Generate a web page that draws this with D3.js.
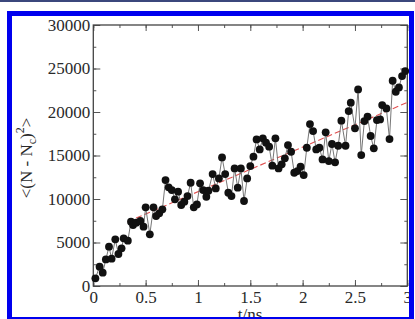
<!DOCTYPE html>
<html>
<head>
<meta charset="utf-8">
<script src="https://cdn.jsdelivr.net/npm/d3@7"></script>
<style>
  body { margin: 0; background: #fff; }
  svg { display: block; }
  text { font-family: "Liberation Serif", "Times New Roman", serif; fill: #2a2a2a; }
</style>
</head>
<body>
<div id="chart"></div>
<script>
var width = 415;
var height = 319;

// simulation time (ns)
const times = [
  0.02, 0.06, 0.09, 0.12, 0.15, 0.175, 0.21, 0.24, 0.27, 0.29,
  0.33, 0.36, 0.38, 0.41, 0.45, 0.48, 0.50, 0.54, 0.575, 0.60,
  0.63, 0.66, 0.69, 0.72, 0.75, 0.78, 0.81, 0.84, 0.87, 0.90,
  0.93, 0.96, 0.99, 1.02, 1.05, 1.08, 1.10, 1.14, 1.17, 1.20,
  1.23, 1.26, 1.29, 1.32, 1.35, 1.38, 1.41, 1.44, 1.47, 1.50,
  1.53, 1.56, 1.59, 1.62, 1.65, 1.68, 1.71, 1.74, 1.77, 1.80,
  1.83, 1.86, 1.89, 1.92, 1.95, 1.98, 2.01, 2.04, 2.07, 2.10,
  2.13, 2.16, 2.19, 2.22, 2.25, 2.28, 2.31, 2.34, 2.37, 2.41,
  2.44, 2.46, 2.50, 2.53, 2.56, 2.59, 2.62, 2.65, 2.68, 2.71,
  2.74, 2.76, 2.80, 2.83, 2.86, 2.89, 2.92, 2.95, 2.98
];
// <(N - Nc)^2>
const fluct = [
  880, 2220, 1530, 3060, 4520, 3140, 5360, 3680, 4330, 5480,
  5210, 7390, 7010, 7280, 7470, 6820, 9040, 5940, 9040, 8040,
  8350, 8810, 12180, 11340, 11030, 9960, 10840, 9310, 9690, 10340,
  11870, 9040, 9380, 11800, 11030, 10260, 10950, 12870, 11220, 12370,
  14780, 12870, 10720, 10340, 13520, 11300, 13520, 9770, 12370, 13790,
  14860, 16850, 15700, 16970, 16470, 16010, 13830, 16970, 13520, 13980,
  14670, 16200, 15430, 13020, 13210, 13710, 12750, 15890, 18610, 17810,
  15700, 15890, 14550, 17660, 14360, 16320, 14210, 16120, 19000, 16120,
  20110, 21070, 18120, 22600, 15050, 18960, 19460, 17240, 15820, 19070,
  19150, 20800, 20410, 16890, 23590, 22330, 22830, 24130, 24700
];
// linear fit end points
const fitT = [0.33, 3.0];
const fitV = [7400, 21100];

const xTicks = [0, 0.5, 1, 1.5, 2, 2.5, 3];
const yTicks = [0, 5000, 10000, 15000, 20000, 25000, 30000];

var svg = d3.select("#chart").append("svg")
  .attr("width", width)
  .attr("height", height);

// top strip
svg.append("rect").attr("x", 0).attr("y", 0).attr("width", width).attr("height", 2).attr("fill", "#3b477c");

var pLeft = 93.3, pRight = 407.3, pTop = 25, pBottom = 286;

var x = d3.scaleLinear().domain([0, 3]).range([pLeft, pRight]);
var y = d3.scaleLinear().domain([0, 30000]).range([pBottom, pTop]);

var minorX = d3.range(0, 3.001, 0.25);
var minorY = d3.range(0, 30001, 2500);

function styleAxis(g) {
  g.select(".domain").remove();
  g.selectAll(".tick line").attr("stroke", "#555").attr("stroke-width", 1);
}

// minor ticks, all four sides
svg.append("g").attr("transform", "translate(0," + pBottom + ")")
  .call(d3.axisBottom(x).tickValues(minorX).tickSize(-3).tickFormat("")).call(styleAxis);
svg.append("g").attr("transform", "translate(0," + pTop + ")")
  .call(d3.axisTop(x).tickValues(minorX).tickSize(-3).tickFormat("")).call(styleAxis);
svg.append("g").attr("transform", "translate(" + pLeft + ",0)")
  .call(d3.axisLeft(y).tickValues(minorY).tickSize(-3).tickFormat("")).call(styleAxis);
svg.append("g").attr("transform", "translate(" + pRight + ",0)")
  .call(d3.axisRight(y).tickValues(minorY).tickSize(-3).tickFormat("")).call(styleAxis);

// major ticks + labels
var xAxis = svg.append("g").attr("transform", "translate(0," + pBottom + ")")
  .call(d3.axisBottom(x).tickValues(xTicks).tickSize(-6).tickPadding(5).tickFormat(d3.format("")))
  .call(styleAxis);
xAxis.selectAll("text").attr("font-size", 17).attr("fill", "#2a2a2a")
  .attr("font-family", "Liberation Serif");

svg.append("g").attr("transform", "translate(0," + pTop + ")")
  .call(d3.axisTop(x).tickValues(xTicks).tickSize(-6).tickFormat("")).call(styleAxis);

var yAxis = svg.append("g").attr("transform", "translate(" + pLeft + ",0)")
  .call(d3.axisLeft(y).tickValues(yTicks).tickSize(-7).tickPadding(3).tickFormat(d3.format("d")))
  .call(styleAxis);
yAxis.selectAll("text").attr("font-size", 17).attr("fill", "#2a2a2a")
  .attr("font-family", "Liberation Serif");

svg.append("g").attr("transform", "translate(" + pRight + ",0)")
  .call(d3.axisRight(y).tickValues(yTicks).tickSize(-7).tickFormat("")).call(styleAxis);

// frame
svg.append("rect")
  .attr("x", pLeft).attr("y", pTop)
  .attr("width", pRight - pLeft).attr("height", pBottom - pTop)
  .attr("fill", "none").attr("stroke", "#444").attr("stroke-width", 1.3);

// fit line
svg.append("line")
  .attr("x1", x(fitT[0])).attr("y1", y(fitV[0]))
  .attr("x2", x(fitT[1])).attr("y2", y(fitV[1]))
  .attr("stroke", "#e05050").attr("stroke-width", 1.1)
  .attr("stroke-dasharray", "6,3");

var pts = times.map((t, i) => ({ t: t, v: fluct[i] }));

svg.append("path")
  .datum(pts)
  .attr("fill", "none")
  .attr("stroke", "#666")
  .attr("stroke-width", 0.9)
  .attr("d", d3.line().x(d => x(d.t)).y(d => y(d.v)));

svg.selectAll("circle.pt")
  .data(pts)
  .join("circle")
  .attr("class", "pt")
  .attr("cx", d => x(d.t))
  .attr("cy", d => y(d.v))
  .attr("r", 3.9)
  .attr("fill", "#111");

// axis titles
svg.append("text")
  .attr("x", 250).attr("y", 320)
  .attr("text-anchor", "middle")
  .attr("font-size", 17)
  .text("t/ns");

var ylab = svg.append("text")
  .attr("transform", "translate(32,158) rotate(-90)")
  .attr("text-anchor", "middle")
  .attr("font-size", 17);
ylab.append("tspan").text("<(N - N");
ylab.append("tspan").attr("font-size", 12).attr("dy", 4).text("c");
ylab.append("tspan").attr("dy", -4).text(")");
ylab.append("tspan").attr("font-size", 12).attr("dy", -8).text("2");
ylab.append("tspan").attr("dy", 8).text(">");

// blue border
svg.append("rect")
  .attr("x", 9.5).attr("y", 13.5)
  .attr("width", 402).attr("height", 306)
  .attr("fill", "none")
  .attr("stroke", "#0000ee")
  .attr("stroke-width", 5);
</script>
</body>
</html>
